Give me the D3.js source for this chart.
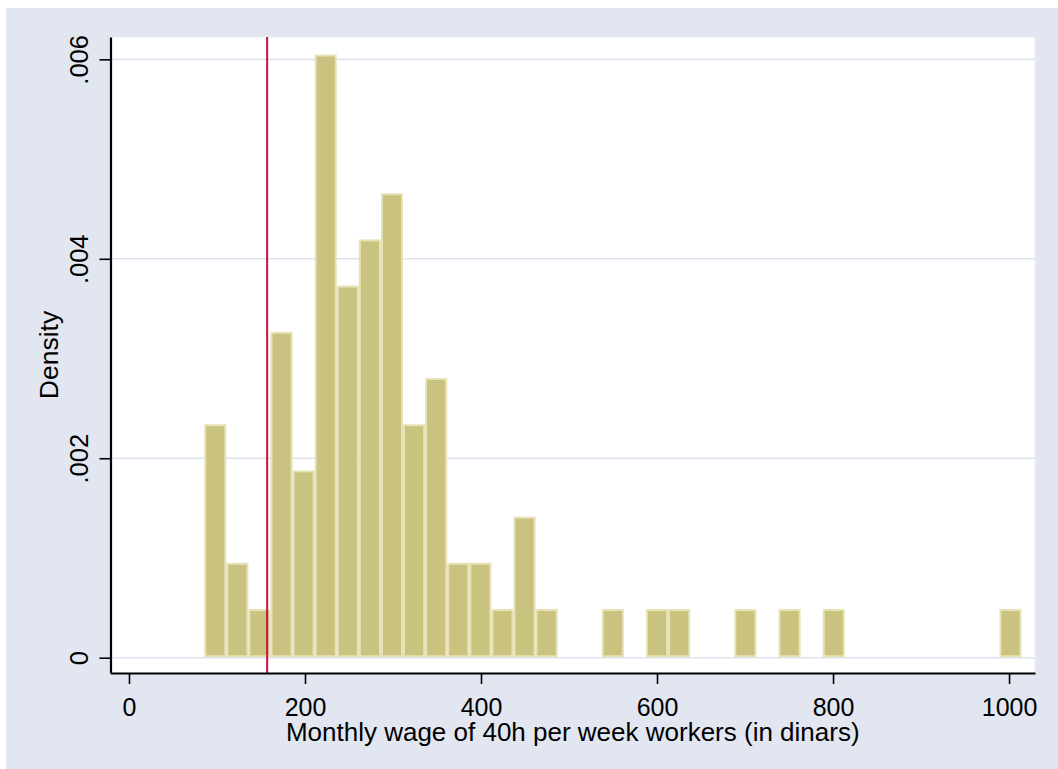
<!DOCTYPE html>
<html>
<head>
<meta charset="utf-8">
<script src="https://cdn.jsdelivr.net/npm/d3@7"></script>
<style>
  html, body { margin: 0; padding: 0; background: #fff; }
  svg { display: block; font-family: "Liberation Sans", Arial, sans-serif; }
</style>
</head>
<body>
<svg id="chart"></svg>
<script>
// histogram of monthly wages, 37 bins
const binStart = 85.5;
const binWidth = 25.1;
const binCounts = [5, 2, 1, 7, 4, 13, 8, 9, 10, 5, 6, 2, 2, 1, 3, 1, 0, 0, 1, 0,
                   1, 1, 0, 0, 1, 0, 1, 0, 1, 0, 0, 0, 0, 0, 0, 0, 1];
const minWage = 157;
const xTicks = [0, 200, 400, 600, 800, 1000];
const yTicks = [0, 0.002, 0.004, 0.006];
const xTitle = "Monthly wage of 40h per week workers (in dinars)";
const yTitle = "Density";

const width = 1058;
const height = 769;
const plot = { left: 110.5, right: 1035, top: 37, bottom: 673 };

const total = d3.sum(binCounts);
const bins = binCounts.map((c, i) => ({
    x0: binStart + i * binWidth,
    x1: binStart + (i + 1) * binWidth,
    density: c / (total * binWidth)
})).filter(d => d.density > 0);

const svg = d3.select("#chart")
    .attr("width", width)
    .attr("height", height);

// outer background
svg.append("rect")
    .attr("x", 6).attr("y", 8)
    .attr("width", width - 6).attr("height", height - 8)
    .attr("fill", "#e1e6f0");

// plot region
svg.append("rect")
    .attr("x", plot.left).attr("y", plot.top)
    .attr("width", plot.right - plot.left)
    .attr("height", plot.bottom - plot.top)
    .attr("fill", "#fff")
    .attr("stroke", "#eef0f5");

const x = d3.scaleLinear().domain([-21, 1029.5]).range([plot.left, plot.right]);
const y = d3.scaleLinear().domain([-0.0001534, 0.006224]).range([plot.bottom, plot.top]);

// gridlines
svg.append("g")
    .selectAll("line")
    .data(yTicks)
    .join("line")
    .attr("x1", plot.left)
    .attr("x2", plot.right)
    .attr("y1", d => y(d))
    .attr("y2", d => y(d))
    .attr("stroke", "#dde3ee")
    .attr("stroke-width", 1.6);

// bars
svg.append("g")
    .selectAll("rect")
    .data(bins)
    .join("rect")
    .attr("x", d => x(d.x0) + 1)
    .attr("width", d => x(d.x1) - x(d.x0) - 2)
    .attr("y", d => y(d.density) - 1.5)
    .attr("height", d => y(0) - y(d.density))
    .attr("fill", "#cac37f")
    .attr("stroke", "#e6e2b6")
    .attr("stroke-width", 2);

// reference line
svg.append("line")
    .attr("x1", x(minWage)).attr("x2", x(minWage))
    .attr("y1", plot.top).attr("y2", plot.bottom)
    .attr("stroke", "#c8103e")
    .attr("stroke-width", 2);

// x axis
const xAxis = svg.append("g")
    .attr("transform", `translate(0,${plot.bottom})`)
    .call(d3.axisBottom(x).tickValues(xTicks).tickSize(11).tickSizeOuter(0).tickFormat(d3.format("d")));
xAxis.select(".domain").attr("stroke", "#000").attr("stroke-width", 2.2);
xAxis.selectAll(".tick line").attr("stroke", "#000").attr("stroke-width", 1.6);
xAxis.selectAll(".tick text")
    .attr("fill", "#000")
    .attr("font-size", "25px")
    .attr("dy", null)
    .attr("y", 43);

// y axis
const yAxis = svg.append("g")
    .attr("transform", `translate(${plot.left},0)`)
    .call(d3.axisLeft(y).tickValues(yTicks).tickSize(11).tickSizeOuter(0)
        .tickFormat(d => d === 0 ? "0" : d3.format(".3f")(d).replace(/^0/, "")));
yAxis.select(".domain").attr("stroke", "#000").attr("stroke-width", 2.2);
yAxis.selectAll(".tick line").attr("stroke", "#000").attr("stroke-width", 1.6);
yAxis.selectAll(".tick text")
    .attr("fill", "#000")
    .attr("font-size", "25.5px")
    .attr("x", null)
    .attr("dy", null)
    .attr("text-anchor", "middle")
    .attr("transform", "translate(-22.5,0) rotate(-90)");

// titles
svg.append("text")
    .attr("x", (plot.left + plot.right) / 2)
    .attr("y", 741)
    .attr("text-anchor", "middle")
    .attr("font-size", "26px")
    .attr("fill", "#000")
    .text(xTitle);

svg.append("text")
    .attr("transform", `translate(57.7,${(plot.top + plot.bottom) / 2}) rotate(-90)`)
    .attr("text-anchor", "middle")
    .attr("font-size", "26.5px")
    .attr("fill", "#000")
    .text(yTitle);
</script>
</body>
</html>
